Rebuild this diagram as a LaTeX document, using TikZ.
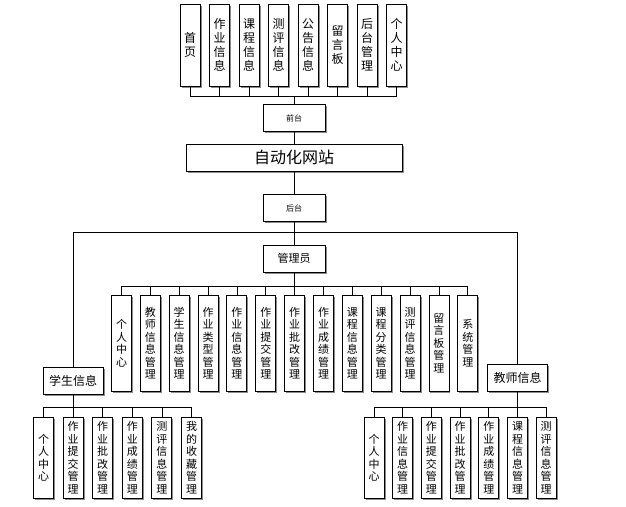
\documentclass[tikz,border=0pt]{standalone}
\usepackage{fontspec}
\setmainfont{Noto Sans CJK SC}
\usetikzlibrary{shadows}

\begin{document}
\begin{tikzpicture}[x=1pt, y=-1pt]
\tikzset{box/.style={rectangle, draw, line width=0.9pt, fill=white, inner sep=0pt, align=center, drop shadow={shadow xshift=1.5pt, shadow yshift=-1.5pt, fill=black!45, opacity=1}}}
\tikzset{vbox/.style={box, minimum width=20pt, font=\fontsize{11}{12.5}\selectfont}}
\tikzset{hbox/.style={box, minimum width=60pt, minimum height=27pt}}
\tikzset{line/.style={line width=0.8pt}}

\useasboundingbox (0,0) rectangle (626,506);

% front end
\foreach \t [count=\i] in {首\\页, 作\\业\\信\\息, 课\\程\\信\\息, 测\\评\\信\\息, 公\\告\\信\\息, 留\\言\\板, 后\\台\\管\\理, 个\\人\\中\\心}
  \node[vbox, minimum height=82pt, font=\fontsize{12}{14}\selectfont] (top\i) at ({190+(\i-1)*29.5}, 45) {\t};

\node[hbox, minimum width=62pt, font=\fontsize{8}{8}\selectfont] (qiantai) at (294,118) {前台};
\node[hbox, minimum width=216pt, font=\fontsize{16}{16}\selectfont] (site) at (294,157.5) {自动化网站};
\node[hbox, minimum width=62pt, font=\fontsize{8}{8}\selectfont] (houtai) at (294,208) {后台};
\node[hbox, minimum width=62pt, font=\fontsize{11}{11}\selectfont] (guanli) at (294,258.5) {管理员};
\node[hbox, font=\fontsize{12}{12}\selectfont] (xuesheng) at (73,380.5) {学生信息};
\node[hbox, font=\fontsize{12}{12}\selectfont] (jiaoshi) at (517.5,378) {教师信息};
\coordinate (split) at (294,232.5);

% admin
\foreach \t [count=\i] in {个\\人\\中\\心, 教\\师\\信\\息\\管\\理, 学\\生\\信\\息\\管\\理, 作\\业\\类\\型\\管\\理, 作\\业\\信\\息\\管\\理, 作\\业\\提\\交\\管\\理, 作\\业\\批\\改\\管\\理, 作\\业\\成\\绩\\管\\理, 课\\程\\信\\息\\管\\理, 课\\程\\分\\类\\管\\理, 测\\评\\信\\息\\管\\理, 留\\言\\板\\管\\理, 系\\统\\管\\理}
  \node[vbox, minimum height=96pt] (adm\i) at ({121.5+(\i-1)*28.86}, 343) {\t};

% student
\foreach \t [count=\i] in {个\\人\\中\\心, 作\\业\\提\\交\\管\\理, 作\\业\\批\\改\\管\\理, 作\\业\\成\\绩\\管\\理, 测\\评\\信\\息\\管\\理, 我\\的\\收\\藏\\管\\理}
  \node[vbox, minimum height=81pt] (stu\i) at ({43.5+(\i-1)*29.6}, 457.5) {\t};

% teacher
\foreach \t [count=\i] in {个\\人\\中\\心, 作\\业\\信\\息\\管\\理, 作\\业\\提\\交\\管\\理, 作\\业\\批\\改\\管\\理, 作\\业\\成\\绩\\管\\理, 课\\程\\信\\息\\管\\理, 测\\评\\信\\息\\管\\理}
  \node[vbox, minimum height=81pt] (tea\i) at ({374+(\i-1)*28.7}, 457.5) {\t};

% connectors
\foreach \i in {1,...,8}
  \draw[line] (qiantai.north) -- ++(0,-7.5) -| (top\i.south);
\draw[line] (qiantai) -- (site);
\draw[line] (site) -- (houtai);
\draw[line] (houtai) -- (guanli);
\draw[line] (xuesheng.north) |- (split) -| (jiaoshi.north);
\foreach \i in {1,...,13}
  \draw[line] (guanli.south) -- ++(0,13.5) -| (adm\i.north);
\foreach \i in {1,...,6}
  \draw[line] (xuesheng.south) -- ++(0,12.5) -| (stu\i.north);
\foreach \i in {1,...,7}
  \draw[line] (jiaoshi.south) -- ++(0,15) -| (tea\i.north);
\end{tikzpicture}
\end{document}
